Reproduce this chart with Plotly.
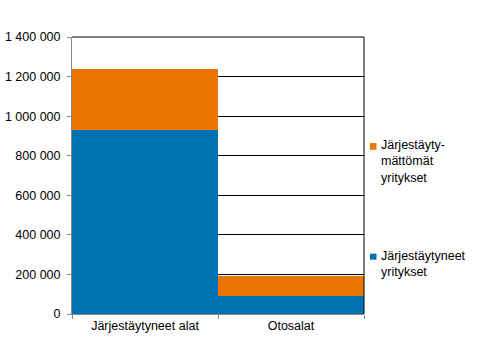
import plotly.graph_objects as go

categories = ["Järjestäytyneet alat", "Otosalat"]
organized = [930000, 92000]
unorganized = [308000, 101000]
series_names = ["Järjestäytyneet<br>yritykset", "Järjestäyty-<br>mättömät<br>yritykset"]
tick_vals = [0, 200000, 400000, 600000, 800000, 1000000, 1200000, 1400000]
tick_text = ["0", "200 000", "400 000", "600 000", "800 000", "1 000 000", "1 200 000", "1 400 000"]

blue = "#0071B1"
orange = "#EA7500"
FONT = "Liberation Sans, Arial, sans-serif"

fig = go.Figure()
fig.add_trace(go.Bar(x=categories, y=organized, name=series_names[0],
                     marker=dict(color=blue, line=dict(width=0)), showlegend=False))
fig.add_trace(go.Bar(x=categories, y=unorganized, name=series_names[1],
                     marker=dict(color=orange, line=dict(width=0)), showlegend=False))

fig.update_layout(
    width=483, height=342,
    margin=dict(l=72, r=119, t=37, b=28, autoexpand=False),
    barmode="stack", bargap=0,
    plot_bgcolor="white", paper_bgcolor="white",
    font=dict(family=FONT, size=12.5, color="#000"),
    xaxis=dict(type="category", tickson="boundaries", ticks="outside", ticklen=4,
               tickcolor="#888", showline=True, linecolor="#888", linewidth=1,
               showgrid=False, range=[-0.5, 1.5]),
    yaxis=dict(range=[0, 1400000], tickvals=tick_vals, ticktext=tick_text,
               ticks="outside", ticklen=4, tickcolor="#888", showline=True,
               linecolor="#888", linewidth=1, showgrid=True, gridcolor="#000",
               gridwidth=1, zeroline=False, ticklabelstandoff=4),
)
fig.add_shape(type="line", xref="x domain", yref="y domain", x0=1, x1=1, y0=0, y1=1,
              line=dict(color="#000", width=1), layer="above")
fig.add_shape(type="line", xref="x domain", yref="y domain", x0=0, x1=1, y0=1, y1=1,
              line=dict(color="#000", width=1), layer="above")

# manual legend (key squares + labels) to the right of the plot
legend_items = [(series_names[1], orange, 0.5505, 0.593, 0.617),
                (series_names[0], blue, 0.179, 0.196, 0.2177)]
for label, col, yc, ys0, ys1 in legend_items:
    fig.add_shape(type="rect", xref="paper", yref="paper", x0=1.0205, x1=1.0428,
                  y0=ys0, y1=ys1, fillcolor=col, line=dict(width=0))
    fig.add_annotation(text=label, xref="paper", yref="paper", x=1.0514, y=yc,
                       xanchor="left", yanchor="middle", align="left", showarrow=False,
                       font=dict(family=FONT, size=12.5, color="#000"))
fig.write_html("out.html")
